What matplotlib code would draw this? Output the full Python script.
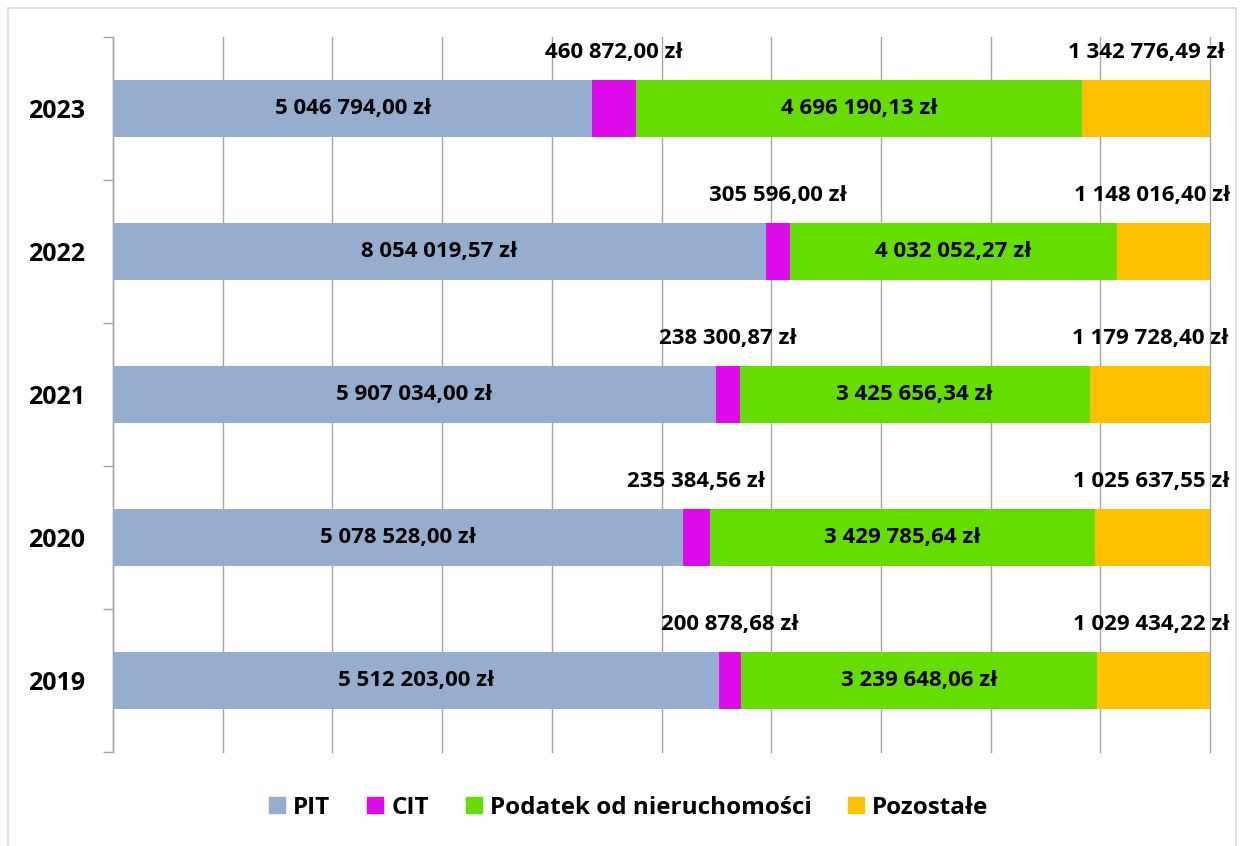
import matplotlib
matplotlib.use("Agg")
import matplotlib.pyplot as plt
from matplotlib.patches import Rectangle
from matplotlib.lines import Line2D
import numpy as np

years = ["2019", "2020", "2021", "2022", "2023"]
series_names = ["PIT", "CIT", "Podatek od nieruchomości", "Pozostałe"]
pit = [5512203.00, 5078528.00, 5907034.00, 8054019.57, 5046794.00]
cit = [200878.68, 235384.56, 238300.87, 305596.00, 460872.00]
nier = [3239648.06, 3429785.64, 3425656.34, 4032052.27, 4696190.13]
poz = [1029434.22, 1025637.55, 1179728.40, 1148016.40, 1342776.49]
colors = ["#95ADCF", "#DD0AEA", "#66DD00", "#FFC000"]

def fmt(v):
    s = f"{v:,.2f}"
    s = s.replace(",", " ").replace(".", ",")
    return s + " zł"

FONT = "Open Sans"
plt.rcParams['font.family'] = [FONT, 'DejaVu Sans']

W, H = 1241, 846
fig = plt.figure(figsize=(W / 100, H / 100), dpi=100)

# outer frame
fig.patches.append(Rectangle((8 / W, -0.01), (1236 - 8) / W, (846 - 8) / H + 0.01,
                             transform=fig.transFigure, fill=False,
                             edgecolor="#D9D9D9", linewidth=1.2))

ax = fig.add_axes([113 / W, 1 - 752 / H, (1210 - 113) / W, (752 - 37) / H])

data = np.array([pit, cit, nier, poz], dtype=float)
totals = data.sum(axis=0)
fracs = data / totals
ypos = np.arange(len(years))
bh = 0.4

outer_texts = []
left = np.zeros(len(years))
for i, name in enumerate(series_names):
    ax.barh(ypos, fracs[i], left=left, height=bh, color=colors[i], label=name,
            zorder=3, linewidth=0)
    for j in range(len(years)):
        cx = left[j] + fracs[i][j] / 2
        if i in (0, 2):
            ax.text(cx, ypos[j], fmt(data[i][j]), ha="center", va="center",
                    fontsize=16, fontweight="bold", zorder=4)
        else:
            t = ax.text(cx, ypos[j] + 0.39, fmt(data[i][j]), ha="center", va="center",
                        fontsize=16, fontweight="bold", zorder=4, clip_on=False)
            outer_texts.append(t)
    left = left + fracs[i]

ax.set_xlim(0, 1)
ax.set_ylim(-0.5, len(years) - 0.5)
ax.set_xticks(np.arange(0, 1.01, 0.1))
ax.xaxis.grid(True, color="#A6A6A6", linewidth=1, zorder=0)
for gl in ax.get_xgridlines():
    gl.set_clip_on(False)
ax.tick_params(axis="x", length=0, labelbottom=False)

ax.set_yticks(ypos)
ax.set_yticklabels(years, fontsize=18, fontweight="bold")
ax.set_yticks(np.arange(-0.5, len(years), 1.0), minor=True)
ax.tick_params(axis="y", which="major", length=0, pad=20)
ax.tick_params(axis="y", which="minor", length=7, color="#A6A6A6", width=1)

for s in ["top", "right", "bottom"]:
    ax.spines[s].set_visible(False)
ax.spines["left"].set_color("#A6A6A6")
ax.spines["left"].set_linewidth(1)

handles = [Line2D([0], [0], marker="s", linestyle="", markersize=11.5,
                  markerfacecolor=c, markeredgecolor=c) for c in colors]
fig.legend(handles, series_names, loc="center", bbox_to_anchor=(628 / W, 1 - 808 / H),
           ncol=4, frameon=False, prop={"size": 17.5, "weight": "bold"},
           handletextpad=0.25, columnspacing=1.45, handlelength=0.8)

# keep outside labels inside the chart area (like the spreadsheet does)
fig.canvas.draw()
renderer = fig.canvas.get_renderer()
xmax_px = 1230
for t in outer_texts:
    bb = t.get_window_extent(renderer)
    if bb.x1 > xmax_px:
        shift = bb.x1 - xmax_px
        x_disp, y_disp = ax.transData.transform(t.get_position())
        nx, ny = ax.transData.inverted().transform((x_disp - shift, y_disp))
        t.set_position((nx, ny))

fig.savefig("out.png", dpi=100)
